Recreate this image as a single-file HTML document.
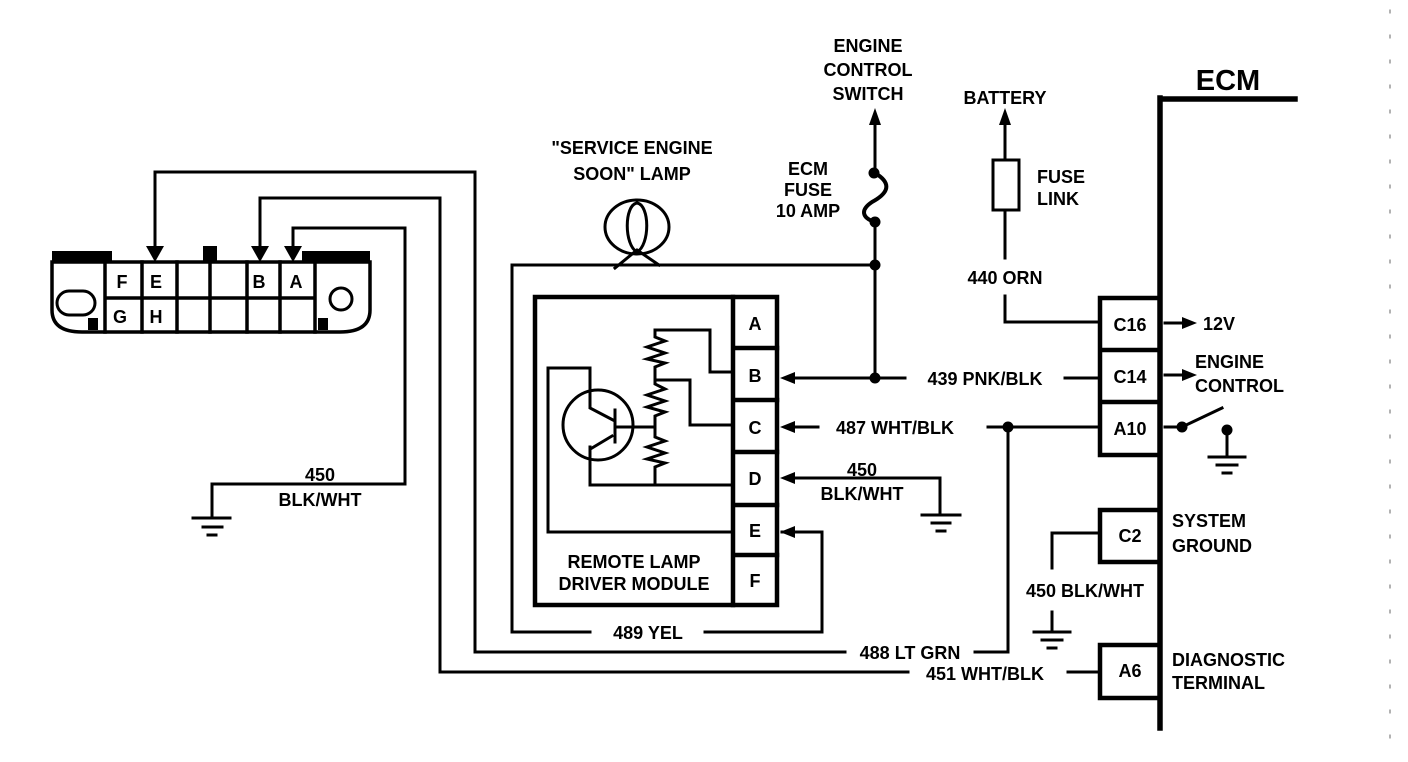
<!DOCTYPE html>
<html><head><meta charset="utf-8">
<style>
html,body{margin:0;padding:0;background:#fff;}
svg{display:block;}
text{font-family:"Liberation Sans",sans-serif;font-weight:bold;fill:#000;}
</style></head><body>
<svg width="1408" height="762" viewBox="0 0 1408 762" xmlns="http://www.w3.org/2000/svg">
<g stroke="#000" fill="none" stroke-width="3" stroke-linecap="square">
<!-- Connector -->
<path d="M52,262 L370,262 L370,310 Q370,332 340,332 L82,332 Q52,332 52,310 Z" stroke-width="3.5"/>
<rect x="52" y="251" width="60" height="11" fill="#000" stroke="none"/>
<rect x="302" y="251" width="68" height="11" fill="#000" stroke="none"/>
<rect x="203" y="246" width="14" height="16" fill="#000" stroke="none"/>
<rect x="88" y="318" width="10" height="12" fill="#000" stroke="none"/>
<rect x="318" y="318" width="10" height="12" fill="#000" stroke="none"/>
<path d="M105,262 V332 M142,262 V332 M177,262 V332 M210,262 V332 M247,262 V332 M280,262 V332 M315,262 V332 M105,298 H315" stroke-width="3.5"/>
<rect x="57" y="291" width="38" height="24" rx="12"/>
<circle cx="341" cy="299" r="11"/>
<!-- wires from connector -->
<path d="M155,250 V172 H475 V652 H845"/>
<path d="M975,652 H1008 V427"/>
<path d="M260,250 V198 H440 V672 H908"/>
<path d="M1068,672 H1100"/>
<path d="M293,250 V228 H405 V484 H212 V518"/>
<path d="M193,518 H230 M203,527 H222 M208,535 H216"/>
<!-- lamp -->
<ellipse cx="637" cy="227" rx="32" ry="27"/>
<path d="M637,203 C624,205 624,245 637,252 C650,245 650,205 637,203"/>
<path d="M615,268 L637,250 L659,265"/>
<path d="M512,265 H875"/>
<path d="M512,265 V632 H590 M705,632 H822 V532 H782"/>
<!-- vertical engine control -->
<path d="M875,120 V173 M875,222 V378"/>
<path d="M875,173 C895,185 885,195 872,202 C860,210 862,218 875,222" stroke-width="4"/>
<!-- module -->
<rect x="535" y="297" width="242" height="308" stroke-width="4.5"/>
<path d="M733,297 V605 M733,348 H777 M733,400 H777 M733,452 H777 M733,505 H777 M733,555 H777" stroke-width="4.5"/>
<!-- transistor -->
<circle cx="598" cy="425" r="35"/>
<path d="M590,368 V408 L613,420 M615,410 V442 M615,427 H655 M612,436 L592,448 M590,447 V485 H733"/>
<path d="M590,368 H548 V532 H733"/>
<!-- resistors -->
<path d="M733,372 H710 V330 H655 V337 L665,341 L647,347 L665,353 L647,359 L665,363 L655,367 V380 H690 V425 H733"/>
<path d="M655,380 V384 L665,389 L647,395 L665,401 L647,407 L665,412 L655,416 V427 V437 L665,441 L647,447 L665,453 L647,459 L665,463 L655,467 V485"/>
<!-- B,C,D wires -->
<path d="M785,378 H905 M1065,378 H1100"/>
<path d="M785,427 H818 M988,427 H1100"/>
<path d="M785,478 H940 V515 M922,515 H960 M932,523 H950 M937,531 H945"/>
<!-- battery -->
<path d="M1005,120 V160 M1005,210 V258 M1005,296 V322 H1100"/>
<rect x="993" y="160" width="26" height="50"/>
<!-- ECM -->
<path d="M1160,98 V728 M1160,99 H1295" stroke-width="5.5"/>
<path d="M1100,298 H1160 M1100,298 V455 H1160 M1100,350 H1160 M1100,402 H1160" stroke-width="4.5"/>
<path d="M1100,510 H1160 M1100,510 V562 H1160" stroke-width="4.5"/>
<path d="M1100,645 H1160 M1100,645 V698 H1160" stroke-width="4.5"/>
<path d="M1165,323 H1185 M1165,375 H1185"/>
<path d="M1165,427 H1182 L1222,408"/>
<path d="M1227,430 V457 M1209,457 H1245 M1217,465 H1237 M1223,473 H1231"/>
<path d="M1100,533 H1052 V568 M1052,612 V632 M1034,632 H1070 M1042,640 H1062 M1048,648 H1056"/>
<path d="M1390,10 V750" stroke-width="1" stroke-dasharray="3,22" stroke="#666"/>
</g>
<g fill="#000">
<polygon points="146,246 164,246 155,262"/>
<polygon points="251,246 269,246 260,262"/>
<polygon points="284,246 302,246 293,262"/>
<polygon points="869,125 881,125 875,108"/>
<polygon points="999,125 1011,125 1005,108"/>
<polygon points="780,378 795,372 795,384"/>
<polygon points="780,427 795,421 795,433"/>
<polygon points="780,478 795,472 795,484"/>
<polygon points="780,532 795,526 795,538"/>
<polygon points="1197,323 1182,317 1182,329"/>
<polygon points="1197,375 1182,369 1182,381"/>
<circle cx="875" cy="265" r="5.5"/>
<circle cx="875" cy="378" r="5.5"/>
<circle cx="874" cy="173" r="5.5"/>
<circle cx="875" cy="222" r="5.5"/>
<circle cx="1008" cy="427" r="5.5"/>
<circle cx="1182" cy="427" r="5.5"/>
<circle cx="1227" cy="430" r="5.5"/>
</g>
<g font-size="18">
<text x="122" y="288" text-anchor="middle">F</text>
<text x="156" y="288" text-anchor="middle">E</text>
<text x="259" y="288" text-anchor="middle">B</text>
<text x="296" y="288" text-anchor="middle">A</text>
<text x="120" y="323" text-anchor="middle">G</text>
<text x="156" y="323" text-anchor="middle">H</text>
<text x="755" y="330" text-anchor="middle">A</text>
<text x="755" y="382" text-anchor="middle">B</text>
<text x="755" y="434" text-anchor="middle">C</text>
<text x="755" y="485" text-anchor="middle">D</text>
<text x="755" y="537" text-anchor="middle">E</text>
<text x="755" y="587" text-anchor="middle">F</text>
<text x="634" y="568" text-anchor="middle">REMOTE LAMP</text>
<text x="634" y="590" text-anchor="middle">DRIVER MODULE</text>
<text x="632" y="154" text-anchor="middle">"SERVICE ENGINE</text>
<text x="632" y="180" text-anchor="middle">SOON" LAMP</text>
<text x="808" y="175" text-anchor="middle">ECM</text>
<text x="808" y="196" text-anchor="middle">FUSE</text>
<text x="808" y="217" text-anchor="middle">10 AMP</text>
<text x="868" y="52" text-anchor="middle">ENGINE</text>
<text x="868" y="76" text-anchor="middle">CONTROL</text>
<text x="868" y="100" text-anchor="middle">SWITCH</text>
<text x="1005" y="104" text-anchor="middle">BATTERY</text>
<text x="1037" y="183">FUSE</text>
<text x="1037" y="205">LINK</text>
<text x="1005" y="284" text-anchor="middle">440 ORN</text>
<text x="1228" y="90" text-anchor="middle" font-size="29">ECM</text>
<text x="1130" y="331" text-anchor="middle">C16</text>
<text x="1130" y="383" text-anchor="middle">C14</text>
<text x="1130" y="435" text-anchor="middle">A10</text>
<text x="1130" y="542" text-anchor="middle">C2</text>
<text x="1130" y="677" text-anchor="middle">A6</text>
<text x="1203" y="330">12V</text>
<text x="1195" y="368">ENGINE</text>
<text x="1195" y="392">CONTROL</text>
<text x="1172" y="527">SYSTEM</text>
<text x="1172" y="552">GROUND</text>
<text x="1085" y="597" text-anchor="middle">450 BLK/WHT</text>
<text x="1172" y="666">DIAGNOSTIC</text>
<text x="1172" y="689">TERMINAL</text>
<text x="985" y="385" text-anchor="middle">439 PNK/BLK</text>
<text x="895" y="434" text-anchor="middle">487 WHT/BLK</text>
<text x="862" y="476" text-anchor="middle">450</text>
<text x="862" y="500" text-anchor="middle">BLK/WHT</text>
<text x="320" y="481" text-anchor="middle">450</text>
<text x="320" y="506" text-anchor="middle">BLK/WHT</text>
<text x="648" y="639" text-anchor="middle">489 YEL</text>
<text x="910" y="659" text-anchor="middle">488 LT GRN</text>
<text x="985" y="680" text-anchor="middle">451 WHT/BLK</text>
</g>
</svg>
</body></html>
